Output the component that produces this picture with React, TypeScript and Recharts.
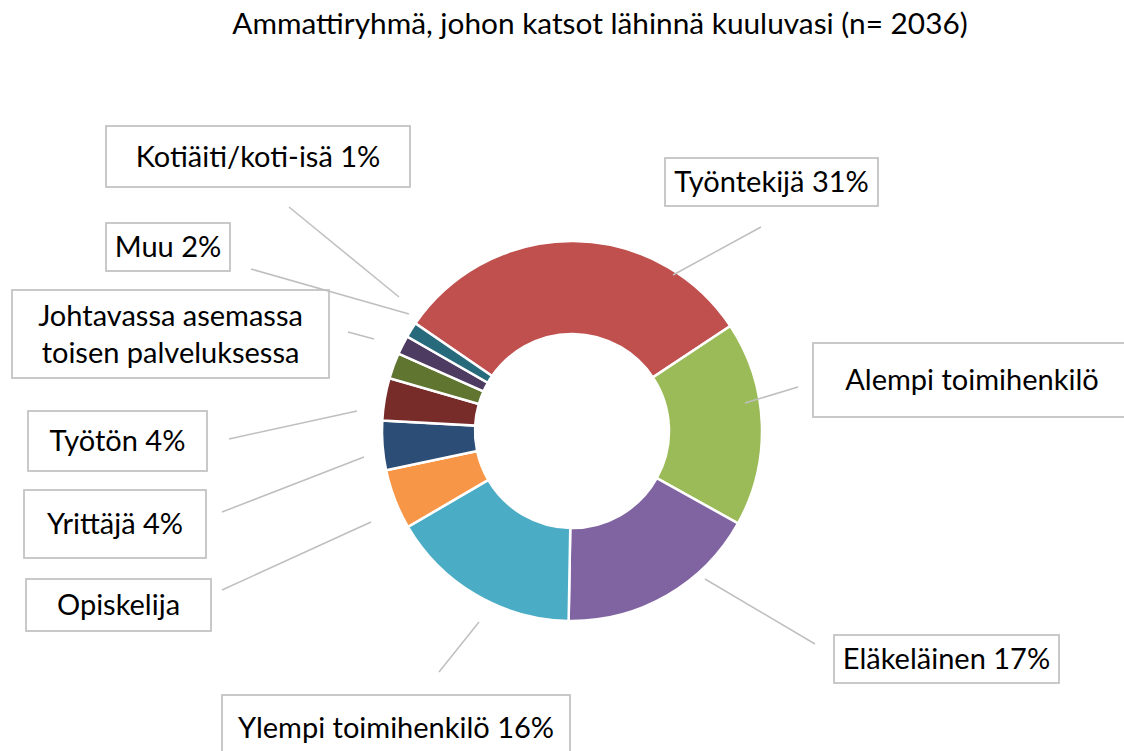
import { PieChart, Pie, Cell } from 'recharts';

const categories = [
  'Työntekijä',
  'Alempi toimihenkilö',
  'Eläkeläinen',
  'Ylempi toimihenkilö',
  'Opiskelija',
  'Yrittäjä',
  'Työtön',
  'Johtavassa asemassa toisen palveluksessa',
  'Muu',
  'Kotiäiti/koti-isä',
];
const shares = [31.1, 17.4, 17.2, 16.3, 5.1, 4.2, 3.6, 2.2, 1.6, 1.3];
const labelLines = [
  ['Työntekijä 31%'],
  ['Alempi toimihenkilö'],
  ['Eläkeläinen 17%'],
  ['Ylempi toimihenkilö 16%'],
  ['Opiskelija'],
  ['Yrittäjä 4%'],
  ['Työtön 4%'],
  ['Johtavassa asemassa', 'toisen palveluksessa'],
  ['Muu 2%'],
  ['Kotiäiti/koti-isä 1%'],
];
const colors = [
  '#C0504D',
  '#9BBB59',
  '#8064A2',
  '#4BACC6',
  '#F79646',
  '#2C4D75',
  '#772C2A',
  '#5F7530',
  '#4D3B62',
  '#276A7C',
];

const CX = 572;
const CY = 431;

// label box placement relative to pie centre: box [dx, dy, w, h], leader [x1, y1, x2, y2]
const boxLayout = [
  { box: [93, -273, 213, 48], line: [189, -204, 101, -156] },
  { box: [241, -88, 318, 74], line: [226, -44, 173, -28] },
  { box: [262, 204, 225, 48], line: [243, 213, 133, 148] },
  { box: [-350, 264, 348, 66], line: [-133, 241, -93, 191] },
  { box: [-546, 148, 185, 52], line: [-350, 159, -201, 91] },
  { box: [-548, 59, 182, 68], line: [-350, 81, -208, 26] },
  { box: [-544, -20, 179, 60], line: [-343, 8, -215, -20] },
  { box: [-560, -141, 317, 88], line: [-224, -99, -198, -92] },
  { box: [-466, -208, 124, 48], line: [-321, -162, -163, -117] },
  { box: [-466, -305, 304, 61], line: [-283, -224, -173, -134] },
];

const FONT = 'Lato, "Open Sans", sans-serif';
const TITLE = 'Ammattiryhmä, johon katsot lähinnä kuuluvasi (n= 2036)';

const data = categories.map((name, i) => ({ name, value: shares[i] }));

function renderLabel(props: any) {
  const { index } = props;
  const cx = props.cx ?? CX;
  const cy = props.cy ?? CY;
  const l = boxLayout[index];
  const [bx, by, bw, bh] = l.box;
  const [x1, y1, x2, y2] = l.line;
  const lines = labelLines[index];
  const lh = 37;
  const midY = cy + by + bh / 2;
  const firstY = midY - ((lines.length - 1) * lh) / 2;
  return (
    <g key={`lbl-${index}`}>
      <line x1={cx + x1} y1={cy + y1} x2={cx + x2} y2={cy + y2} stroke="#BFBFBF" strokeWidth={1.5} />
      <rect x={cx + bx} y={cy + by} width={bw} height={bh} fill="#FFFFFF" stroke="#C4C4C4" strokeWidth={1.8} />
      <text x={cx + bx + bw / 2} textAnchor="middle" fontFamily={FONT} fontSize={29} fill="#000000">
        {lines.map((t, k) => (
          <tspan key={k} x={cx + bx + bw / 2} y={firstY + k * lh} dy="0.35em">
            {t}
          </tspan>
        ))}
      </text>
    </g>
  );
}

export default function App() {
  return (
    <div style={{ position: 'absolute', left: 0, top: 0, width: 1124, height: 751, background: '#fff' }}>
      <svg width={1124} height={60} style={{ position: 'absolute', left: 0, top: 0, zIndex: 2 }}>
        <text x={600} y={34} textAnchor="middle" fontFamily={FONT} fontSize={29.8} fill="#000000">
          {TITLE}
        </text>
      </svg>
      <PieChart width={1124} height={751} margin={{ top: 0, right: 0, bottom: 0, left: 0 }}>
        <Pie
          data={data}
          dataKey="value"
          nameKey="name"
          cx={CX}
          cy={CY}
          innerRadius={97}
          outerRadius={190}
          startAngle={145.5}
          endAngle={-214.5}
          stroke="#FFFFFF"
          strokeWidth={2.5}
          label={renderLabel}
          labelLine={false}
          isAnimationActive={false}
        >
          {data.map((d, i) => (
            <Cell key={d.name} fill={colors[i]} />
          ))}
        </Pie>
      </PieChart>
    </div>
  );
}
